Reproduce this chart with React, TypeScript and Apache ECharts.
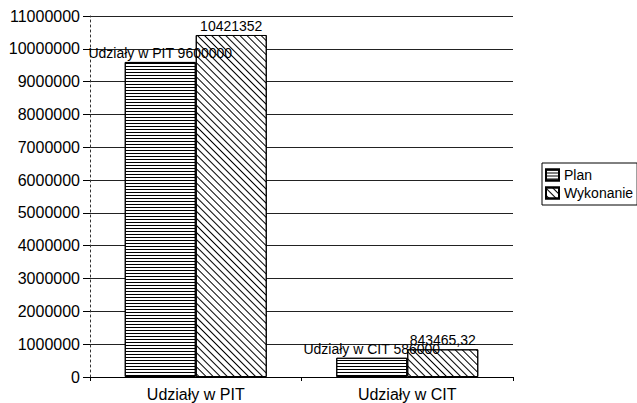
import React, { useEffect, useRef } from "react";
import * as echarts from "echarts";

const categories = ["Udziały w PIT", "Udziały w CIT"];
const planValues = [9600000, 586000];
const wykonanieValues = [10421352, 843465.32];
const seriesNames = ["Plan", "Wykonanie"];
const yMax = 11000000;
const yInterval = 1000000;

const FONT = "'Liberation Sans', Arial, sans-serif";

export default function App() {
  const ref = useRef<HTMLDivElement>(null);
  useEffect(() => {
    if (!ref.current) return;
    const chart = echarts.init(ref.current, undefined, { renderer: "svg" });
    chart.setOption({
      animation: false,
      backgroundColor: "#ffffff",
      aria: { enabled: true, decal: { show: true } },
      textStyle: { fontFamily: FONT, color: "#000" },
      grid: { left: 90, right: 124, top: 16, bottom: 26, containLabel: false },
      legend: {
        orient: "vertical",
        left: 542,
        top: 163,
        padding: [5, 4, 5, 3],
        itemGap: 4,
        itemWidth: 13,
        itemHeight: 11,
        borderColor: "#000",
        borderWidth: 1,
        icon: "rect",
        textStyle: { fontFamily: FONT, fontSize: 14, color: "#000" },
        data: seriesNames,
      },
      xAxis: {
        type: "category",
        data: categories,
        axisLine: { show: true, lineStyle: { color: "#000", width: 1 } },
        axisTick: { show: true, length: 4, lineStyle: { color: "#000" } },
        axisLabel: { fontFamily: FONT, fontSize: 16, color: "#000", margin: 9 },
      },
      yAxis: {
        type: "value",
        min: 0,
        max: yMax,
        interval: yInterval,
        axisLine: { show: true, lineStyle: { color: "#333", type: [2, 3], width: 1 } },
        axisTick: { show: true, length: 7, inside: false, lineStyle: { color: "#000" } },
        axisLabel: {
          fontFamily: FONT,
          fontSize: 16,
          color: "#000",
          margin: 10,
          formatter: (v: number) => String(v),
        },
        splitLine: { show: true, lineStyle: { color: "#222", width: 1 } },
      },
      series: [
        {
          name: seriesNames[0],
          type: "bar",
          data: planValues,
          barWidth: 71,
          barGap: "0%",
          itemStyle: {
            color: "#ffffff",
            borderColor: "#000",
            borderWidth: 1,
            decal: {
              symbol: "rect",
              symbolSize: 1,
              color: "#000",
              backgroundColor: "#ffffff",
              dashArrayX: [[1, 0]],
              dashArrayY: [1, 2],
              rotation: 0,
            },
          },
          label: {
            show: true,
            position: "top",
            distance: 2,
            fontFamily: FONT,
            fontSize: 14,
            color: "#000",
            formatter: (p: any) => `${p.name} ${p.value}`,
          },
          z: 3,
        },
        {
          name: seriesNames[1],
          type: "bar",
          data: wykonanieValues,
          barWidth: 71,
          barGap: "0%",
          itemStyle: {
            color: "#ffffff",
            borderColor: "#000",
            borderWidth: 1,
            decal: {
              symbol: "rect",
              symbolSize: 1,
              color: "#000",
              backgroundColor: "#ffffff",
              dashArrayX: [[1, 0]],
              dashArrayY: [1, 4],
              rotation: Math.PI / 4,
            },
          },
          label: {
            show: true,
            position: "top",
            distance: 2,
            fontFamily: FONT,
            fontSize: 14,
            color: "#000",
            formatter: (p: any) => String(p.value).replace(".", ","),
          },
          z: 2,
        },
      ],
    });
    return () => chart.dispose();
  }, []);
  return <div ref={ref} style={{ width: 637, height: 403, position: "absolute", left: 0, top: 0 }} />;
}
